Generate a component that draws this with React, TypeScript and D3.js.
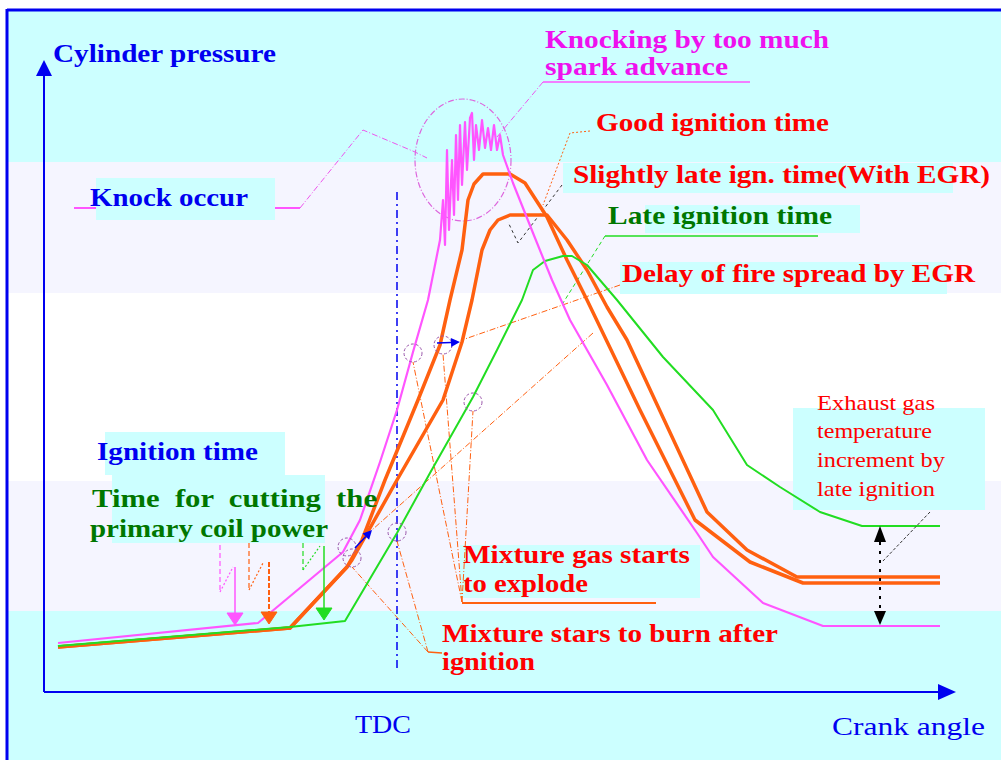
import React from "react";
import * as d3 from "d3";

type Pt = [number, number];

// Crank angle in arbitrary units (TDC = 0), cylinder pressure in arbitrary units (0 = x axis)
const knockCurve: Pt[] = [
  [-339, 49], [-139, 69], [-54, 140], [-37, 172], [-17, 230], [0, 282], [16, 340], [31, 392], [43, 452],
  [46, 492], [48, 447], [50, 542], [52, 462], [55, 532], [57, 477], [59, 557], [61, 492], [63, 567],
  [65, 507], [68, 570], [70, 522], [73, 574], [75, 579], [77, 532], [79, 567], [82, 542], [85, 572],
  [88, 544], [91, 564], [94, 542], [97, 567], [100, 542], [103, 557], [106, 537],
  [116, 509], [136, 459], [155, 412], [173, 372], [210, 307], [250, 232], [300, 159], [316, 135],
  [366, 89], [426, 66], [543, 66],
];

const goodIgnition: Pt[] = [
  [-339, 45], [-107, 64], [-50, 125], [-35, 152], [-12, 212], [21, 292], [43, 347], [53, 392],
  [65, 442], [71, 492], [77, 508], [86, 518], [113, 518], [128, 509], [150, 475], [170, 432],
  [190, 392], [243, 282], [298, 172], [353, 130], [406, 109], [543, 109],
];

const slightlyLateEgr: Pt[] = [
  [-339, 45], [-107, 64], [-50, 125], [-45, 132], [0, 212], [46, 292], [65, 350], [75, 392],
  [85, 442], [93, 462], [101, 472], [113, 477], [150, 477], [170, 452], [190, 422], [210, 385],
  [230, 352], [310, 180], [350, 142], [400, 115], [543, 115],
];

const lateIgnition: Pt[] = [
  [-339, 46], [-107, 65], [-52, 71], [0, 159], [33, 219], [76, 295], [100, 342], [125, 392],
  [136, 422], [148, 431], [166, 436], [175, 436], [190, 427], [220, 392], [266, 335], [316, 282],
  [350, 227], [383, 205], [423, 180], [465, 166], [543, 166],
];

// small dashed marker circles: mixture burns / explodes
const burnMarks: Pt[] = [[-50, 145], [-45, 134], [0, 160]];
const explodeMarks: Pt[] = [[16, 339], [46, 347], [76, 290]];

// ignition markers
const ignitionAngles = [
  { dashX: -177, dashTop: 147, dashBot: 100, zigX: -164, zigY: 125, arrowX: -162, arrowTop: 125, tip: 67, color: "#ff55ff" },
  { dashX: -148, dashTop: 149, dashBot: 102, zigX: -134, zigY: 129, arrowX: -128, arrowTop: 130, tip: 68, color: "#ff6010" },
  { dashX: -94, dashTop: 149, dashBot: 122, zigX: -77, zigY: 146, arrowX: -73, arrowTop: 146, tip: 72, color: "#22dd22" },
];

const W = 1001;
const H = 760;
const x = d3.scaleLinear().domain([-353, 559]).range([44, 956]);
const y = d3.scaleLinear().domain([0, 632]).range([692, 60]);
const line = d3.line<Pt>().x((d) => x(d[0])).y((d) => y(d[1]));

const BLUE = "#0000f0";
const RED = "#ff0000";
const DGREEN = "#007700";
const MAG = "#ee11ee";
const ORANGE = "#ff6010";
const PINK = "#ff55ff";
const GREEN = "#22dd22";
const CYAN = "#ccffff";
const LAV = "#f5f5ff";
const FONT = "'Liberation Serif', 'DejaVu Serif', serif";

function T(props: { x: number; y: number; w: number; fill: string; size?: number; weight?: string; adj?: string; children: string }) {
  const { x: tx, y: ty, w, fill, size = 26, weight = "bold", adj = "spacingAndGlyphs", children } = props;
  return (
    <text x={tx} y={ty} textLength={w} lengthAdjust={adj} fontFamily={FONT} fontSize={size} fontWeight={weight} fill={fill} style={{ whiteSpace: "pre" }}>
      {children}
    </text>
  );
}

const seg = (a: Pt, b: Pt) => line([a, b]) as string;
const DASHDOT = "6 2 1 2";

function downHead(px: number, tipY: number, color: string, hw = 8, h = 12) {
  return <polygon points={`${px - hw},${tipY - h} ${px + hw},${tipY - h} ${px},${tipY}`} fill={color} />;
}

export default function App() {
  return (
    <svg width={W} height={H} style={{ position: "absolute", left: 0, top: 0, display: "block" }}>
      <rect x={0} y={0} width={W} height={H} fill="#ffffff" />
      {/* background bands */}
      <rect x={7} y={10} width={W} height={152} fill={CYAN} />
      <rect x={7} y={162} width={W} height={131} fill={LAV} />
      <rect x={7} y={293} width={W} height={188} fill="#ffffff" />
      <rect x={7} y={481} width={W} height={130} fill={LAV} />
      <rect x={7} y={611} width={W} height={H - 611} fill={CYAN} />
      {/* frame */}
      <line x1={7} y1={10} x2={W} y2={10} stroke={BLUE} strokeWidth={3} />
      <line x1={7} y1={9} x2={7} y2={H} stroke={BLUE} strokeWidth={3} />

      {/* label boxes */}
      <rect x={96} y={178} width={179} height={42} fill={CYAN} />
      <rect x={563} y={163} width={390} height={30} fill={CYAN} />
      <rect x={645} y={205} width={215} height={28} fill={CYAN} />
      <rect x={620} y={262} width={327} height={32} fill={CYAN} />
      <rect x={105} y={432} width={180} height={43} fill={CYAN} />
      <rect x={112} y={475} width={213} height={68} fill={CYAN} />
      <rect x={460} y={545} width={240} height={53} fill={CYAN} />
      <rect x={793} y={408} width={192} height={102} fill={CYAN} />

      {/* axes */}
      <line x1={x(-353)} y1={y(0)} x2={x(-353)} y2={y(616)} stroke={BLUE} strokeWidth={2} />
      <polygon points={`${x(-353) - 8},${y(616)} ${x(-353) + 8},${y(616)} ${x(-353)},${y(632)}`} fill={BLUE} />
      <line x1={x(-353)} y1={y(0)} x2={x(541)} y2={y(0)} stroke={BLUE} strokeWidth={2} />
      <polygon points={`${x(541)},${y(0) - 8} ${x(541)},${y(0) + 8} ${x(559)},${y(0)}`} fill={BLUE} />

      {/* TDC line */}
      <line x1={x(0)} y1={y(24)} x2={x(0)} y2={y(500)} stroke={BLUE} strokeWidth={1.5} strokeDasharray="8 4 2 4" />

      {/* leader lines */}
      <g fill="none" strokeWidth={1}>
        {/* knock occur */}
        <path d={seg([-323, 484], [-301, 484])} stroke={PINK} strokeWidth={2} />
        <path d={seg([-122, 484], [-97, 484])} stroke={PINK} strokeWidth={2} />
        <path d={line([[-97, 484], [-34, 562], [18, 540], [30, 534]]) as string} stroke="#ee55ee" strokeDasharray={DASHDOT} />
        {/* knocking by too much spark advance */}
        <path d={seg([146, 610], [353, 610])} stroke={PINK} strokeWidth={1.5} />
        <path d={seg([146, 610], [100, 555])} stroke="#ee55ee" strokeDasharray={DASHDOT} />
        {/* good ignition */}
        <path d={line([[193, 561], [173, 559], [146, 487]]) as string} stroke={ORANGE} strokeDasharray="2 2" />
        {/* slightly late */}
        <path d={line([[165, 507], [121, 449], [111, 470]]) as string} stroke="#333333" strokeDasharray="3 3" />
        {/* late ignition */}
        <path d={seg([208, 456], [421, 456])} stroke={GREEN} strokeWidth={1.5} />
        <path d={seg([208, 456], [166, 389])} stroke={GREEN} strokeDasharray="4 3" />
        {/* delay of fire spread */}
        <path d={seg([223, 407], [65, 352])} stroke={ORANGE} strokeDasharray={DASHDOT} />
        <path d={seg([196, 359], [-25, 162])} stroke={ORANGE} strokeDasharray={DASHDOT} />
        {/* explode */}
        {explodeMarks.map((m, i) => (
          <path key={"e" + i} d={seg([65, 90], [m[0], m[1] - 9])} stroke={ORANGE} strokeDasharray={DASHDOT} />
        ))}
        <path d={seg([65, 89], [259, 89])} stroke={ORANGE} strokeWidth={2} />
        {/* burn after ignition */}
        <path d={seg([45, 39], [31, 40])} stroke={ORANGE} strokeWidth={1.5} />
        <path d={seg([31, 40], [-45, 125])} stroke={ORANGE} strokeDasharray={DASHDOT} />
        <path d={seg([31, 40], [0, 151])} stroke={ORANGE} strokeDasharray={DASHDOT} />
      </g>

      {/* knock circle */}
      <ellipse cx={x(66)} cy={y(532)} rx={48} ry={61} fill="none" stroke="#dd66dd" strokeWidth={1.2} strokeDasharray={DASHDOT} />

      {/* curves */}
      <path d={line(goodIgnition) as string} fill="none" stroke={ORANGE} strokeWidth={3.5} strokeLinejoin="round" />
      <path d={line(slightlyLateEgr) as string} fill="none" stroke={ORANGE} strokeWidth={3.5} strokeLinejoin="round" />
      <path d={line(lateIgnition) as string} fill="none" stroke={GREEN} strokeWidth={2} strokeLinejoin="round" />
      <path d={line(knockCurve) as string} fill="none" stroke={PINK} strokeWidth={2.2} strokeLinejoin="round" />

      {/* ignition markers */}
      {ignitionAngles.map((g, i) => (
        <g key={"ig" + i} stroke={g.color} fill="none">
          <path d={seg([g.dashX, g.dashTop], [g.dashX, g.dashBot])} strokeWidth={1.2} strokeDasharray="5 3" />
          <path d={seg([g.dashX, g.dashBot], [g.zigX, g.zigY])} strokeWidth={1.2} strokeDasharray="2 2" />
          <path d={seg([g.arrowX, g.arrowTop], [g.arrowX, g.tip + 10])} strokeWidth={i === 1 ? 2 : 1.5} strokeDasharray={i === 1 ? "5 2" : undefined} />
          {downHead(x(g.arrowX), y(g.tip), g.color)}
        </g>
      ))}

      {/* marker circles */}
      {[...burnMarks, ...explodeMarks].map((m, i) => (
        <circle key={"c" + i} cx={x(m[0])} cy={y(m[1])} r={9} fill="none" stroke="#9955aa" strokeWidth={1} strokeDasharray="3 2" />
      ))}

      {/* blue delay arrows */}
      {[
        [[40, 349], [63, 350]] as Pt[],
        [[-42, 144], [-25, 162]] as Pt[],
      ].map((a, i) => {
        const [p0, p1] = a;
        const ang = Math.atan2(y(p1[1]) - y(p0[1]), x(p1[0]) - x(p0[0]));
        const tx = x(p1[0]);
        const ty = y(p1[1]);
        const l = 9;
        const w = 4.5;
        const bx = tx - l * Math.cos(ang);
        const by = ty - l * Math.sin(ang);
        return (
          <g key={"ba" + i}>
            <line x1={x(p0[0])} y1={y(p0[1])} x2={bx} y2={by} stroke={BLUE} strokeWidth={1.5} />
            <polygon
              points={`${tx},${ty} ${bx - w * Math.sin(ang)},${by + w * Math.cos(ang)} ${bx + w * Math.sin(ang)},${by - w * Math.cos(ang)}`}
              fill={BLUE}
            />
          </g>
        );
      })}

      {/* exhaust gas temperature arrow */}
      <line x1={x(483)} y1={y(150)} x2={x(483)} y2={y(80)} stroke="#000" strokeWidth={2} strokeDasharray="3 6" />
      <polygon points={`${x(483) - 6},${y(150)} ${x(483) + 6},${y(150)} ${x(483)},${y(166)}`} fill="#000" />
      {downHead(x(483), y(67), "#000", 6, 14)}
      <path d={seg([533, 180], [485, 130])} stroke="#333" strokeWidth={1} strokeDasharray="3 2" fill="none" />

      {/* texts */}
      <T x={53} y={62} w={223} fill={BLUE}>Cylinder pressure</T>
      <T x={90} y={206} w={158} fill={BLUE}>Knock occur</T>
      <T x={545} y={48} w={284} fill={MAG}>Knocking by too much</T>
      <T x={545} y={75} w={183} fill={MAG}>spark advance</T>
      <T x={596} y={131} w={233} fill={RED}>Good ignition time</T>
      <T x={573} y={183} w={417} fill={RED}>Slightly late ign. time(With EGR)</T>
      <T x={608} y={224} w={224} fill={DGREEN}>Late ignition time</T>
      <T x={622} y={282} w={353} fill={RED}>Delay of fire spread by EGR</T>
      <T x={97} y={460} w={161} fill={BLUE}>Ignition time</T>
      <T x={92} y={507} w={285} fill={DGREEN}>{"Time  for  cutting  the"}</T>
      <T x={90} y={537} w={238} fill={DGREEN}>primary coil power</T>
      <T x={463} y={563} w={227} fill={RED}>Mixture gas starts</T>
      <T x={463} y={592} w={125} fill={RED}>to explode</T>
      <T x={442} y={642} w={336} fill={RED}>Mixture stars to burn after</T>
      <T x={442} y={670} w={93} fill={RED}>ignition</T>
      <T x={817} y={410} w={118} fill={RED} size={22} weight="normal">Exhaust gas</T>
      <T x={817} y={438} w={115} fill={RED} size={22} weight="normal">temperature</T>
      <T x={817} y={467} w={128} fill={RED} size={22} weight="normal">increment by</T>
      <T x={817} y={496} w={118} fill={RED} size={22} weight="normal">late ignition</T>
      <T x={355} y={733} w={56} fill={BLUE} weight="normal">TDC</T>
      <T x={832} y={735} w={153} fill={BLUE} weight="normal">Crank angle</T>
    </svg>
  );
}
